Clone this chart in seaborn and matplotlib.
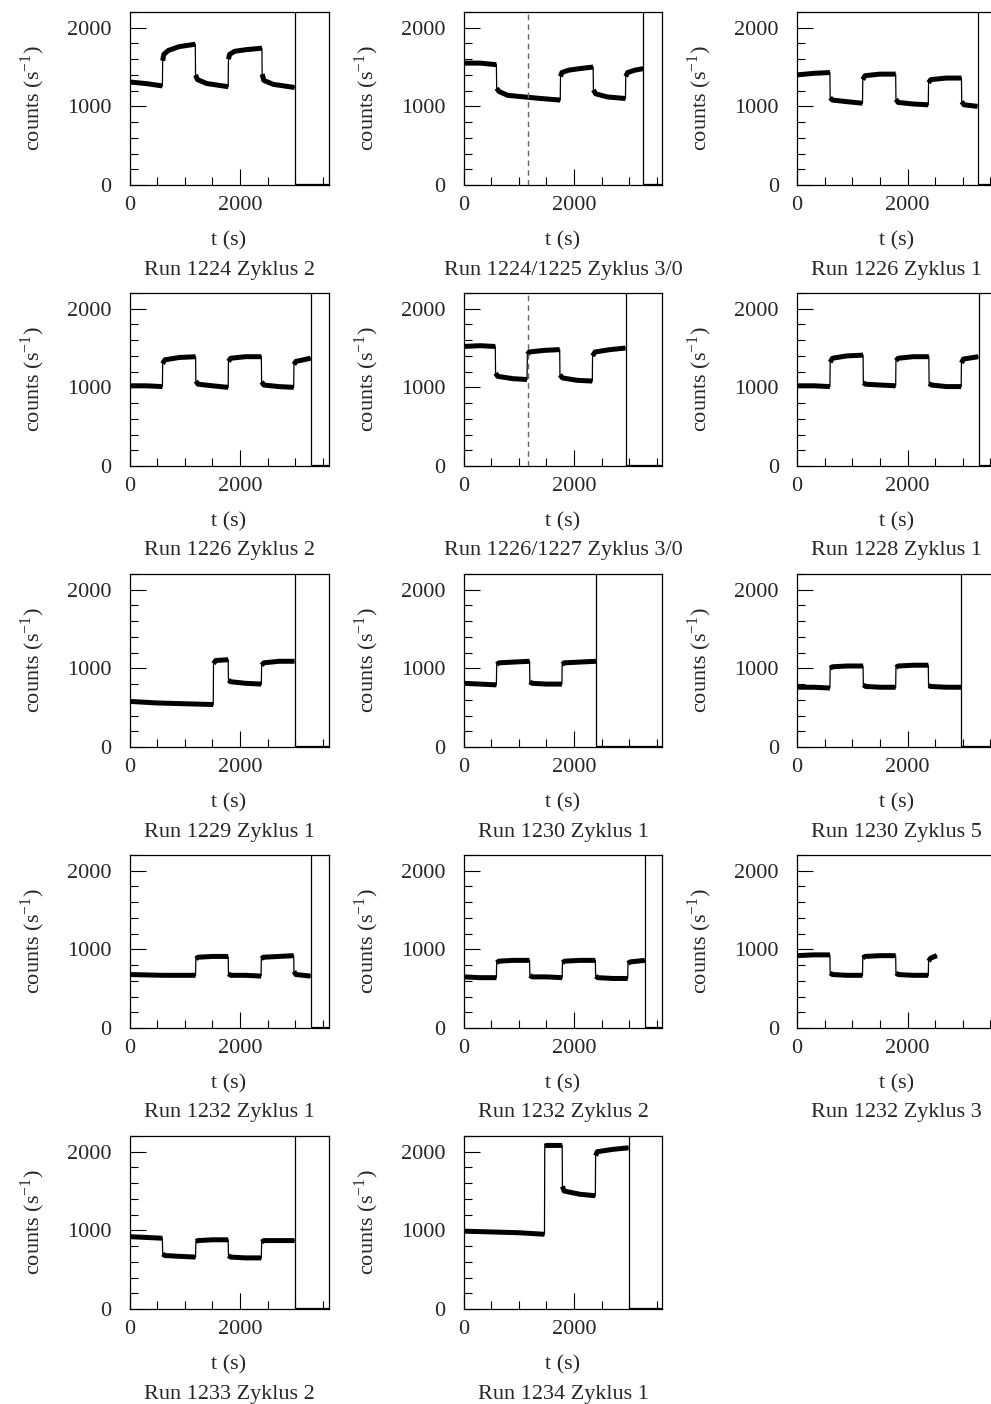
import numpy as np
import pandas as pd
import matplotlib
matplotlib.use("Agg")
import matplotlib.pyplot as plt
from matplotlib.ticker import FixedLocator, MultipleLocator
import seaborn as sns

# ---- count-rate histories, one per cycle (t in s, rate in 1/s) ----
titles = [
    "Run 1224 Zyklus 2", "Run 1224/1225 Zyklus 3/0", "Run 1226 Zyklus 1",
    "Run 1226 Zyklus 2", "Run 1226/1227 Zyklus 3/0", "Run 1228 Zyklus 1",
    "Run 1229 Zyklus 1", "Run 1230 Zyklus 1", "Run 1230 Zyklus 5",
    "Run 1232 Zyklus 1", "Run 1232 Zyklus 2", "Run 1232 Zyklus 3",
    "Run 1233 Zyklus 2", "Run 1234 Zyklus 1",
]

t01 = [0, 300, 595, 600, 620, 700, 900, 1190, 1195, 1230, 1400, 1785, 1790, 1810, 1900, 2100, 2395, 2400, 2430, 2600, 2985]
c01 = [1310, 1290, 1260, 1580, 1660, 1710, 1760, 1790, 1400, 1340, 1290, 1250, 1600, 1660, 1700, 1720, 1740, 1410, 1330, 1280, 1240]

t02 = [0, 300, 595, 600, 640, 800, 1100, 1400, 1750, 1755, 1780, 1900, 2100, 2345, 2350, 2390, 2600, 2930, 2935, 2970, 3100, 3250]
c02 = [1550, 1550, 1530, 1230, 1190, 1140, 1120, 1100, 1080, 1380, 1430, 1460, 1480, 1500, 1210, 1160, 1120, 1100, 1380, 1430, 1460, 1480]

t03 = [0, 300, 595, 600, 640, 900, 1185, 1190, 1230, 1500, 1785, 1790, 1830, 2100, 2375, 2380, 2420, 2700, 2975, 2980, 3020, 3265]
c03 = [1400, 1420, 1430, 1110, 1080, 1060, 1040, 1340, 1390, 1410, 1410, 1090, 1050, 1030, 1020, 1300, 1340, 1360, 1360, 1060, 1020, 1000]

t04 = [0, 300, 595, 600, 640, 900, 1195, 1200, 1240, 1500, 1785, 1790, 1830, 2100, 2385, 2390, 2430, 2700, 2970, 2975, 3010, 3275]
c04 = [1020, 1020, 1010, 1300, 1350, 1380, 1390, 1080, 1040, 1020, 1000, 1330, 1370, 1390, 1390, 1070, 1030, 1010, 1000, 1290, 1330, 1370]

t05 = [0, 300, 575, 580, 620, 900, 1150, 1155, 1190, 1450, 1740, 1745, 1790, 2050, 2330, 2335, 2380, 2650, 2930]
c05 = [1520, 1530, 1520, 1180, 1140, 1110, 1100, 1420, 1450, 1470, 1480, 1160, 1120, 1090, 1080, 1400, 1450, 1480, 1500]

t06 = [0, 300, 595, 600, 640, 900, 1195, 1200, 1240, 1500, 1785, 1790, 1830, 2100, 2385, 2390, 2430, 2700, 2970, 2975, 3010, 3280]
c06 = [1020, 1020, 1010, 1320, 1370, 1400, 1410, 1060, 1040, 1030, 1020, 1340, 1370, 1390, 1390, 1050, 1030, 1010, 1010, 1310, 1360, 1390]

t07 = [0, 500, 1000, 1515, 1520, 1560, 1785, 1790, 1830, 2100, 2385, 2390, 2430, 2700, 2985]
c07 = [580, 560, 550, 540, 1060, 1100, 1110, 850, 830, 810, 800, 1040, 1070, 1090, 1090]

t08 = [0, 300, 595, 600, 640, 900, 1195, 1200, 1240, 1500, 1780, 1785, 1820, 2100, 2395]
c08 = [810, 800, 790, 1050, 1070, 1080, 1090, 830, 810, 800, 800, 1050, 1070, 1080, 1090]

t09 = [0, 300, 595, 600, 640, 900, 1195, 1200, 1240, 1500, 1785, 1790, 1830, 2100, 2375, 2380, 2420, 2700, 2970]
c09 = [760, 760, 750, 1000, 1020, 1030, 1030, 790, 770, 760, 760, 1010, 1030, 1040, 1040, 780, 770, 760, 760]

t10 = [0, 600, 1195, 1200, 1240, 1500, 1785, 1790, 1830, 2100, 2380, 2385, 2420, 2700, 2970, 2975, 3010, 3275]
c10 = [680, 670, 670, 880, 900, 910, 910, 690, 670, 670, 660, 880, 900, 910, 920, 720, 680, 660]

t11 = [0, 300, 595, 600, 640, 900, 1195, 1200, 1240, 1500, 1785, 1790, 1830, 2100, 2385, 2390, 2430, 2700, 2970, 2975, 3010, 3280]
c11 = [650, 640, 640, 830, 850, 860, 860, 670, 650, 650, 640, 830, 850, 860, 860, 660, 640, 630, 630, 820, 840, 860]

t12 = [0, 300, 595, 600, 640, 900, 1185, 1190, 1230, 1500, 1785, 1790, 1830, 2100, 2375, 2380, 2420, 2530]
c12 = [920, 930, 930, 700, 680, 670, 670, 890, 910, 920, 920, 700, 680, 670, 670, 850, 890, 920]

t13 = [0, 300, 595, 600, 640, 900, 1195, 1200, 1240, 1500, 1785, 1790, 1830, 2100, 2385, 2390, 2430, 2700, 2985]
c13 = [920, 910, 900, 700, 680, 670, 660, 860, 870, 880, 880, 680, 660, 650, 650, 850, 870, 870, 870]

t14 = [0, 500, 1000, 1465, 1470, 1500, 1785, 1790, 1820, 2100, 2385, 2390, 2420, 2700, 2985]
c14 = [990, 980, 970, 950, 2070, 2080, 2080, 1560, 1500, 1460, 1440, 1950, 2000, 2030, 2050]

# end-of-cycle bin (overflow spike), background after the cycle, run-change markers
end_time = [2990, 3255, 3270, 3280, 2935, 3285, 2990, 2400, 2975, 3280, 3280, None, 2990, 2985]
end_spike = 5000
tail_rate = 8
run_change = {1: 1170, 4: 1160}

times = [t01, t02, t03, t04, t05, t06, t07, t08, t09, t10, t11, t12, t13, t14]
rates = [c01, c02, c03, c04, c05, c06, c07, c08, c09, c10, c11, c12, c13, c14]

T_MAX = 3600
C_MAX = 2200

sns.set_style("ticks")
plt.rcParams["font.family"] = ["Liberation Serif", "DejaVu Serif"]
plt.rcParams["mathtext.fontset"] = "custom"
plt.rcParams["mathtext.rm"] = "Liberation Serif"
FS = 16

W, H = 991, 1404
fig = plt.figure(figsize=(W / 100, H / 100), dpi=100)

col_left = [129.5, 463.5, 797.0]
row_top = [12, 293, 574, 855, 1136]
AW, AH = 199, 173


def draw_trace(ax, t, c):
    df = pd.DataFrame({"t": np.asarray(t, float), "c": np.asarray(c, float)})
    sns.lineplot(data=df, x="t", y="c", ax=ax, color="black", lw=0.9,
                 sort=False, estimator=None, legend=False)
    # heavier stroke along the plateaus, thin stroke for the switching steps
    cuts = np.where(np.diff(df["t"].values) < 10)[0] + 1
    for idx in np.split(np.arange(len(df)), cuts):
        if len(idx) > 1:
            sns.lineplot(data=df.iloc[idx], x="t", y="c", ax=ax, color="black",
                         lw=3.6, sort=False, estimator=None, legend=False,
                         solid_capstyle="butt")


for i, title in enumerate(titles):
    r, k = divmod(i, 3)
    x0 = col_left[k] / W
    y0 = 1 - (row_top[r] + AH) / H
    ax = fig.add_axes([x0, y0, AW / W, AH / H])

    draw_trace(ax, times[i], rates[i])

    if end_time[i] is not None:
        te = end_time[i]
        spike = pd.DataFrame({"t": [te, te, T_MAX], "c": [end_spike, tail_rate, tail_rate]})
        sns.lineplot(data=spike, x="t", y="c", ax=ax, color="black", lw=0.9,
                     sort=False, estimator=None, legend=False)

    if i in run_change:
        ax.axvline(run_change[i], color="#666666", lw=1.0, ls=(0, (4, 3)))

    ax.set_xlim(0, T_MAX)
    ax.set_ylim(0, C_MAX)

    ax.xaxis.set_major_locator(FixedLocator([0, 2000]))
    ax.xaxis.set_minor_locator(MultipleLocator(500))
    ax.yaxis.set_major_locator(FixedLocator([0, 1000, 2000]))
    ax.yaxis.set_minor_locator(MultipleLocator(200))
    ax.tick_params(axis="both", which="major", direction="in", length=11.5,
                   width=0.8, labelsize=FS, color="black")
    ax.tick_params(axis="both", which="minor", direction="in", length=5.8,
                   width=0.8, color="black")
    ax.tick_params(axis="y", which="major", pad=13)
    ax.tick_params(axis="x", which="major", pad=8)

    for sp in ax.spines.values():
        sp.set_visible(True)
        sp.set_color("black")
        sp.set_linewidth(0.9)

    ax.set_xlabel("t (s)", fontsize=FS)
    ax.xaxis.set_label_coords(0.5, -56 / AH)
    ax.xaxis.label.set_va("center")
    ax.set_ylabel("counts (s$^{\\mathregular{-1}}$)", fontsize=FS)
    ax.yaxis.set_label_coords(-97 / AW, 0.5)
    ax.yaxis.label.set_va("center")
    ax.yaxis.label.set_ha("center")

    ax.text(0.5, -85 / AH, title, transform=ax.transAxes, ha="center",
            va="center", fontsize=FS)

fig.savefig("out.png", dpi=100)
